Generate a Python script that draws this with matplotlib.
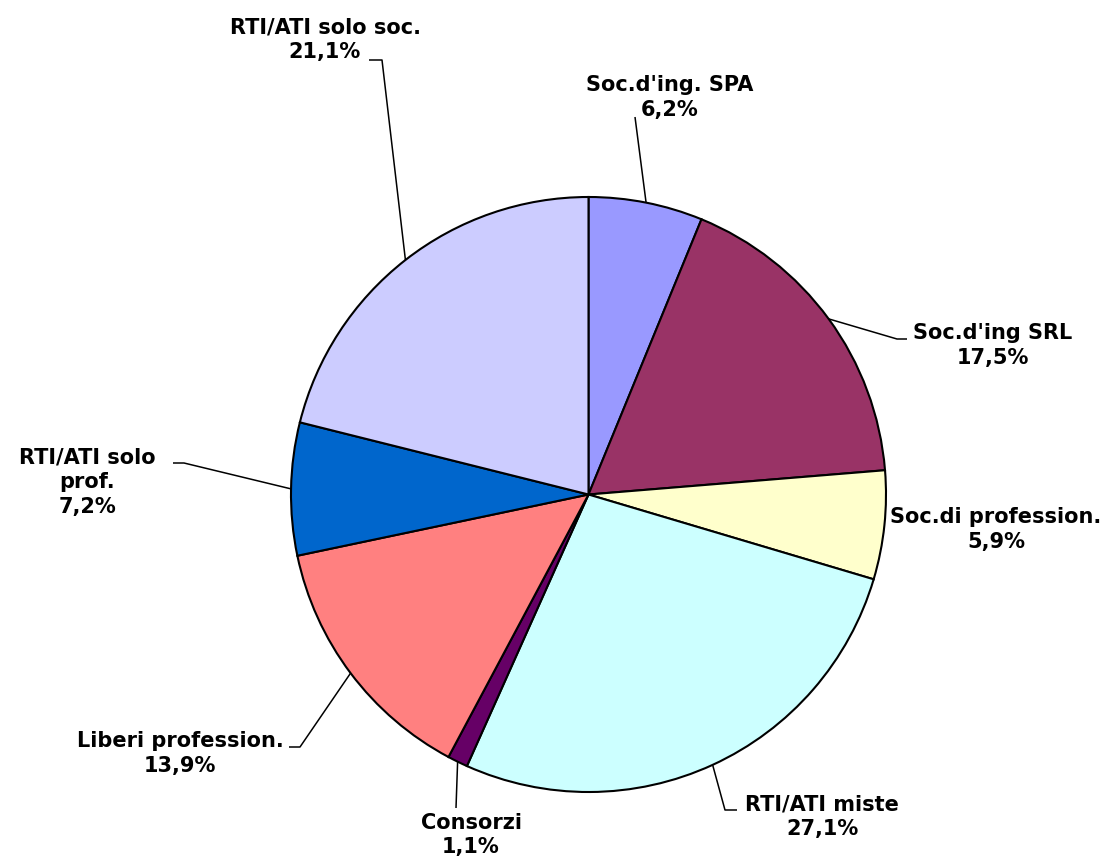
import numpy as np
import matplotlib
matplotlib.use("Agg")
import matplotlib.pyplot as plt

# slice data, clockwise from 12 o'clock
labels = ["Soc.d'ing. SPA", "Soc.d'ing SRL", "Soc.di profession.", "RTI/ATI miste",
          "Consorzi", "Liberi profession.", "RTI/ATI solo\nprof.", "RTI/ATI solo soc."]
values = [6.2, 17.5, 5.9, 27.1, 1.1, 13.9, 7.2, 21.1]
colors = ["#9999FF", "#993366", "#FFFFCC", "#CCFFFF",
          "#660066", "#FF8080", "#0066CC", "#CCCCFF"]

W, H = 1105, 859
cx, cy, R = 588.5, H - 494.5, 297.5

# label layout in pixel coords (y from top): text centre, leader elbow points
text_pos = [(670, 97.5), (993, 345.5), (996, 529.5), (822, 816.5),
            (471, 835), (180, 753.5), (87, 482.5), (325, 39.5)]
leaders = [[(635, 117)],
           [(897, 339), (907, 339)],
           [],
           [(725, 810), (737, 810)],
           [(456, 808)],
           [(300, 747), (289, 747)],
           [(184, 463), (173, 463)],
           [(382, 60), (369, 60)]]

fig = plt.figure(figsize=(W / 100, H / 100), dpi=100)
ax = fig.add_axes([0, 0, 1, 1])

wedges, _ = ax.pie(values, colors=colors, startangle=90, counterclock=False,
                   center=(cx, cy), radius=R, frame=True,
                   wedgeprops=dict(edgecolor="black", linewidth=1.5))

total = sum(values)
for i, w in enumerate(wedges):
    mid = np.deg2rad((w.theta1 + w.theta2) / 2)
    ex, ey = cx + R * np.cos(mid), cy + R * np.sin(mid)
    if leaders[i]:
        pts = [(ex, ey)] + [(x, H - y) for x, y in leaders[i]]
        xs, ys = zip(*pts)
        ax.plot(xs, ys, color="black", lw=1.1, solid_capstyle="butt")
    pct = ("%.1f%%" % (100 * values[i] / total)).replace(".", ",")
    tx, ty = text_pos[i]
    ax.text(tx, H - ty, labels[i] + "\n" + pct, ha="center", va="center",
            fontsize=15, fontweight="bold", family="DejaVu Sans",
            linespacing=1.3)

ax.set_xlim(0, W)
ax.set_ylim(0, H)
ax.set_aspect("equal")
ax.axis("off")

fig.savefig("out.png", dpi=100)
